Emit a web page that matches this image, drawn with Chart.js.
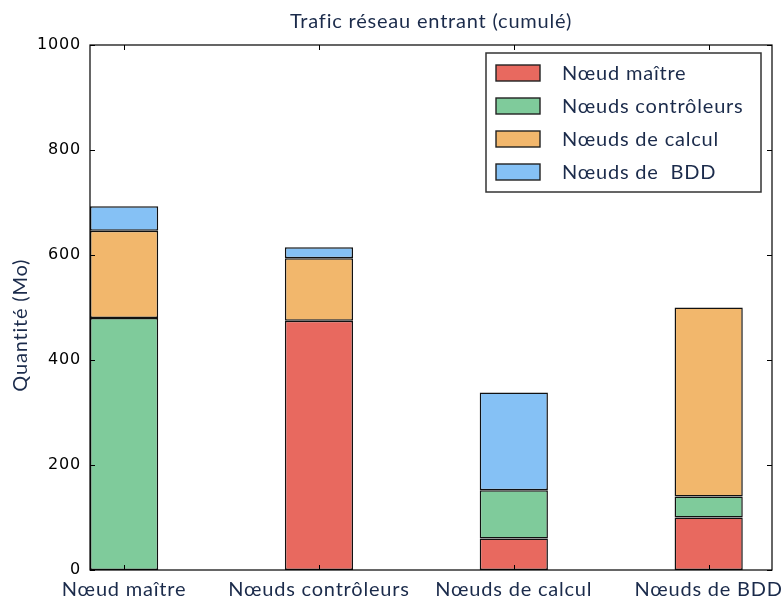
<!DOCTYPE html>
<html>
<head>
<meta charset="utf-8">
<script src="https://cdn.jsdelivr.net/npm/chart.js@4.4.1/dist/chart.umd.min.js"></script>
<style>
  html, body { margin: 0; padding: 0; background: #fff; }
  #wrap { width: 783px; height: 598px; }
</style>
</head>
<body>
<div id="wrap"><canvas id="chart"></canvas></div>
<script>
// categories (x positions are simply their index)
const categories = ["Nœud maître", "Nœuds contrôleurs", "Nœuds de calcul", "Nœuds de BDD"];
const seriesNames = ["Nœud maître", "Nœuds contrôleurs", "Nœuds de calcul", "Nœuds de  BDD"];

// values (Mo), null = no segment
const maitre = [null, 475, 60, 100];
const controleurs = [480, null, 92, 40];
const calcul = [166, 119, null, 360];
const bdd = [47, 21, 186, null];

const yTicks = [0, 200, 400, 600, 800, 1000];

const colors = ["#e8695f", "#7fcb9b", "#f2b76c", "#85c1f5"];
const navy = "#1b2b4b";
const geoFont = "Lato";

const toPoints = (arr) => arr.map((v, i) => ({ x: i, y: v }));

const frame = {
  id: "frame",
  beforeDraw(chart) {
    // the original font is wider than Lato, open it up a little
    chart.ctx.letterSpacing = "0.8px";
  },
  afterDatasetsDraw(chart) {
    const { ctx, chartArea: a, scales } = chart;
    ctx.save();
    ctx.strokeStyle = "#000";
    ctx.lineWidth = 1;
    // inward ticks
    ctx.beginPath();
    yTicks.forEach((t) => {
      const y = Math.round(scales.y.getPixelForValue(t)) + 0.5;
      ctx.moveTo(a.left, y); ctx.lineTo(a.left + 5, y);
      ctx.moveTo(a.right, y); ctx.lineTo(a.right - 5, y);
    });
    categories.forEach((c, i) => {
      const x = Math.round(scales.x.getPixelForValue(i)) + 0.5;
      ctx.moveTo(x, a.bottom); ctx.lineTo(x, a.bottom - 5);
      ctx.moveTo(x, a.top); ctx.lineTo(x, a.top + 5);
    });
    ctx.stroke();
    ctx.lineWidth = 1.2;
    ctx.strokeRect(a.left, a.top, a.right - a.left, a.bottom - a.top);

    // legend box, top right inside the axes
    const bx = 486, by = 53, bw = 275, bh = 139;
    ctx.fillStyle = "#fff";
    ctx.fillRect(bx, by, bw, bh);
    ctx.strokeStyle = "#333";
    ctx.lineWidth = 1.5;
    ctx.strokeRect(bx, by, bw, bh);
    ctx.font = "20px " + geoFont;
    ctx.textBaseline = "middle";
    chart.data.datasets.forEach((ds, i) => {
      const cy = by + 20 + i * 33;
      ctx.fillStyle = ds.backgroundColor;
      ctx.fillRect(bx + 10, cy - 8, 44, 16);
      ctx.strokeStyle = "#222";
      ctx.lineWidth = 1.4;
      ctx.strokeRect(bx + 10, cy - 8, 44, 16);
      ctx.fillStyle = navy;
      ctx.fillText(ds.label, bx + 76, cy + 1);
    });
    ctx.restore();
  }
};

new Chart(document.getElementById("chart"), {
  type: "bar",
  data: {
    datasets: [
      { label: seriesNames[0], data: toPoints(maitre), backgroundColor: colors[0] },
      { label: seriesNames[1], data: toPoints(controleurs), backgroundColor: colors[1] },
      { label: seriesNames[2], data: toPoints(calcul), backgroundColor: colors[2] },
      { label: seriesNames[3], data: toPoints(bdd), backgroundColor: colors[3] },
    ].map((d) => Object.assign(d, {
      borderColor: "#111",
      borderWidth: 1.5,
      borderSkipped: false,
      categoryPercentage: 1,
      barPercentage: 0.35,
    })),
  },
  options: {
    responsive: true,
    maintainAspectRatio: false,
    animation: false,
    layout: { padding: { left: 0, right: 11, top: 0, bottom: 0 } },
    plugins: {
      legend: { display: false },
      tooltip: { enabled: false },
      title: {
        display: true,
        fullSize: false,
        text: "Trafic réseau entrant (cumulé)",
        color: navy,
        font: { family: geoFont, size: 20, weight: "normal" },
        padding: { top: 10, bottom: 11 },
      },
    },
    scales: {
      x: {
        type: "linear",
        stacked: true,
        offset: false,
        min: -0.175,
        max: 3.325,
        grid: { display: false, drawTicks: false },
        border: { display: false },
        afterBuildTicks: (s) => { s.ticks = categories.map((c, i) => ({ value: i })); },
        afterFit: (s) => { s.height = 28; s.paddingLeft = 0; s.paddingRight = 0; },
        ticks: {
          callback: (v) => categories[v],
          color: navy,
          font: { family: geoFont, size: 20 },
          padding: 8,
          maxRotation: 0,
          autoSkip: false,
        },
      },
      y: {
        stacked: true,
        min: 0,
        max: 1000,
        grid: { display: false, drawTicks: false },
        border: { display: false },
        afterBuildTicks: (s) => { s.ticks = yTicks.map((v) => ({ value: v })); },
        afterFit: (s) => { s.width = 90; },
        title: {
          display: true,
          text: "Quantité (Mo)      ",
          color: navy,
          font: { family: geoFont, size: 20 },
          padding: { top: 9, bottom: 0 },
        },
        ticks: {
          callback: (v) => String(v),
          color: "#000",
          font: { family: "DejaVu Sans", size: 16 },
          padding: 9,
        },
      },
    },
  },
  plugins: [frame],
});
</script>
</body>
</html>
